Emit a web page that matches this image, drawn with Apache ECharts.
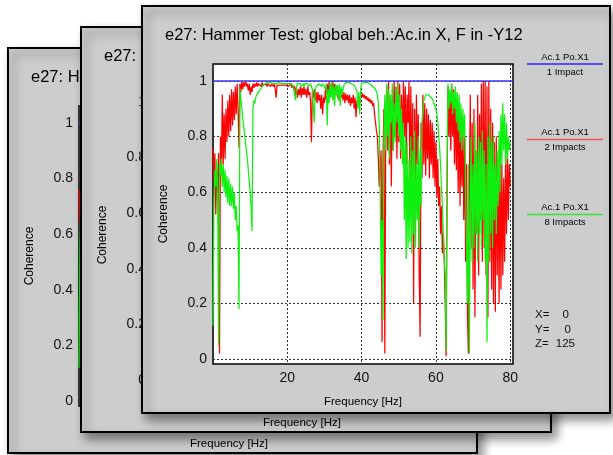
<!DOCTYPE html>
<html>
<head>
<meta charset="utf-8">
<script src="https://cdn.jsdelivr.net/npm/echarts@6/dist/echarts.min.js"></script>
<style>
  html, body { margin: 0; padding: 0; background: #ffffff; }
  #chart { width: 613px; height: 455px; }
</style>
</head>
<body>
<div id="chart"></div>
<script>
// Coherence spectra, hammer test e27 (frequency sampled every 0.25 Hz from 0 to 80 Hz)
const FREQ_STEP = 0.25;

// 2 impacts (red)
const impacts2 = [
  0.76, 0.64, 0.74, 0.52,  0.68, 0.60, 0.74, 0.02,  0.80, 0.66, 0.95, 0.70,  0.88, 0.72, 0.90, 0.78,
  0.93, 0.80, 0.95, 0.82,  0.97, 0.84, 0.96, 0.86,  0.98, 0.88, 0.99, 0.90,  0.76, 0.99, 0.96, 1.00,
  0.97, 0.995, 0.98, 1.00, 0.98, 0.99, 0.965, 0.99, 0.95, 0.98, 0.96, 0.99,  0.975, 0.99, 0.98, 0.995,
  0.98, 0.99, 0.985, 0.99, 0.98, 0.995, 0.985, 0.99, 0.985, 0.99, 0.98, 0.99, 0.985, 0.99, 0.98, 0.99,
  0.985, 0.98, 0.99, 0.97, 0.94, 0.985, 0.98, 0.99, 0.985, 0.98, 0.99, 0.985, 0.98, 0.99, 0.985, 0.98,
  0.99, 0.98, 0.985, 0.975, 0.99, 0.975, 0.985, 0.97, 0.98, 0.95, 0.975, 0.94, 0.97, 0.95, 0.98, 0.94,
  0.975, 0.95, 0.98, 0.95, 0.97, 0.94, 0.98, 0.95,  0.96, 0.93, 0.78, 0.96,  0.94, 0.97, 0.93, 0.96,
  0.92, 0.96, 0.93, 0.95,  0.90, 0.95, 0.88, 0.94,  0.92, 0.97, 0.93, 0.99,  0.95, 1.00, 0.94, 0.99,
  0.96, 1.00, 0.95, 0.99,  0.95, 0.98, 0.94, 0.97,  0.93, 0.97, 0.94, 0.96,  0.93, 0.96, 0.92, 0.955,
  0.93, 0.95, 0.92, 0.95,  0.91, 0.94, 0.92, 0.95,  0.90, 0.94, 0.87, 0.93,  0.91, 0.945, 0.92, 0.95,
  0.94, 0.955, 0.94, 0.95, 0.935, 0.945, 0.93, 0.94, 0.925, 0.935, 0.92, 0.93, 0.91, 0.92, 0.88, 0.85,
  0.82, 0.80, 0.72, 0.62,  0.68, 0.75, 0.06, 0.72,  0.90, 0.02, 0.85, 0.98,  0.75, 1.00, 0.70, 0.95,
  0.62, 0.92, 0.75, 1.00,  0.80, 0.98, 0.72, 1.00,  0.78, 0.99, 0.72, 0.95,  0.75, 1.00, 0.80, 0.98,
  0.70, 0.95, 0.85, 1.00,  0.65, 0.98, 0.60, 0.92,  0.20, 0.90, 0.55, 0.95,  0.70, 0.88, 0.30, 0.08,
  0.85, 0.65, 0.95, 0.70,  0.92, 0.66, 0.90, 0.72,  0.88, 0.65, 0.86, 0.70,  0.85, 0.65, 0.82, 0.62,
  0.78, 0.58, 0.72, 0.55,  0.62, 0.45, 0.55, 0.38,  0.45, 0.35, 0.20, 0.01,  0.60, 0.98, 0.80, 0.95,
  0.75, 0.99, 0.80, 0.97,  0.70, 0.95, 0.68, 0.92,  0.60, 0.90, 0.55, 0.88,  0.62, 0.85, 0.50, 0.80,
  0.35, 0.70, 0.15, 0.02,  0.60, 0.95, 0.40, 0.85,  0.25, 0.90, 0.15, 0.75,  0.45, 0.95, 0.30, 0.88,
  0.50, 0.99, 0.35, 1.00,  0.40, 1.00, 0.30, 0.98,  0.15, 1.00, 0.35, 0.90,  0.25, 0.85, 0.20, 0.78,
  0.17, 0.80, 0.30, 0.72,  0.20, 0.75, 0.25, 0.70,  0.30, 0.65, 0.35, 0.72,  0.45, 0.75, 0.50, 0.70,
  0.62
];

// 8 impacts (green)
const impacts8 = [
  0.12, 0.55, 0.68, 0.62,  0.72, 0.58, 0.05, 0.70,  0.66, 0.72, 0.62, 0.70,  0.60, 0.68, 0.58, 0.66,
  0.56, 0.65, 0.55, 0.63,  0.55, 0.62, 0.54, 0.60,  0.50, 0.55, 0.46, 0.48,  0.18, 0.97, 0.94, 0.90,
  0.87, 0.84, 0.81, 0.78,  0.75, 0.72, 0.68, 0.64,  0.60, 0.55, 0.46, 0.90,  0.93, 0.92, 0.94, 0.95,
  0.955, 0.96, 0.965, 0.97, 0.975, 0.98, 0.98, 0.985, 0.99, 0.99, 0.99, 0.995, 0.995, 0.995, 0.995, 0.995,
  0.995, 0.99, 0.995, 0.99, 0.99, 0.995, 0.995, 0.995, 0.995, 0.995, 0.99, 0.995, 0.995, 0.99, 0.995, 0.995,
  0.99, 0.995, 0.985, 0.99, 0.995, 0.99, 0.985, 0.99, 0.98, 0.93, 0.98, 0.99,  0.99, 0.985, 0.99, 0.98,
  0.985, 0.99, 0.98, 0.99, 0.99, 0.985, 0.99, 0.98, 0.985, 0.99, 0.98, 0.97,  0.97, 0.85, 0.96, 0.98,
  0.985, 0.98, 0.99, 0.985, 0.99, 0.98, 0.99, 0.985, 0.98, 0.97, 0.99, 0.84,  0.97, 0.92, 0.99, 0.94,
  1.00, 0.93, 0.98, 0.91,  0.99, 0.95, 0.985, 0.93, 0.99, 0.91, 0.98, 0.95,  0.97, 0.985, 0.99, 0.995,
  0.995, 0.995, 0.995, 0.995, 0.995, 0.99, 0.995, 0.99, 0.985, 0.98, 0.97, 0.96, 0.90, 0.96, 0.88, 0.97,
  0.99, 0.995, 0.995, 0.995, 0.995, 0.995, 0.995, 0.99, 0.99, 0.99, 0.985, 0.985, 0.98, 0.98, 0.975, 0.97,
  0.96, 0.95, 0.92, 0.85,  0.60, 0.30, 0.50, 0.14,  0.80, 0.95, 0.75, 0.99,  0.80, 0.97, 0.72, 0.95,
  0.85, 0.99, 0.75, 0.92,  0.78, 0.97, 0.85, 0.99,  0.80, 0.95, 0.75, 0.90,  0.70, 0.85, 0.50, 0.80,
  0.36, 0.78, 0.40, 0.72,  0.42, 0.80, 0.38, 0.75,  0.45, 0.82, 0.40, 0.70,  0.50, 0.80, 0.40, 0.75,
  0.55, 0.85, 0.90, 0.93,  0.93, 0.95, 0.95, 0.955, 0.95, 0.95, 0.945, 0.94, 0.935, 0.93, 0.92, 0.91,
  0.90, 0.88, 0.85, 0.80,  0.76, 0.70, 0.62, 0.55,  0.45, 0.36, 0.30, 0.03,  0.70, 0.99, 0.90, 0.97,
  0.92, 0.99, 0.88, 0.96,  0.90, 0.98, 0.85, 0.96,  0.82, 0.95, 0.78, 0.92,  0.75, 0.90, 0.80, 0.88,
  0.60, 0.40, 0.20, 0.70,  0.02, 0.55, 0.80, 0.35,  0.70, 0.40, 0.85, 0.45,  0.75, 0.35, 0.80, 0.45,
  0.78, 0.40, 0.82, 0.50,  0.75, 0.35, 0.70, 0.06,  0.80, 0.35, 0.85, 0.45,  0.78, 0.40, 0.80, 0.50,
  0.70, 0.45, 0.75, 0.55,  0.82, 0.60, 0.88, 0.70,  0.92, 0.75, 0.88, 0.70,  0.85, 0.72, 0.80, 0.75,
  0.78
];

// 1 impact (blue): coherence is identically one over the whole band
const impact1Freq = [0, 80.75];
const impact1 = [1, 1];

const TITLE = 'e27: Hammer Test: global beh.:Ac.in X, F in -Y12';
const legendHead = 'Ac.1 Po.X1';
const legendNames = ['1 Impact', '2 Impacts', '8 Impacts'];
const cursorLabels = ['X=', 'Y=', 'Z='];
const cursorValues = ['0', '0', '125'];

const SANS = "'Liberation Sans', Arial, sans-serif";
const COLORS = { one: '#3a3aff', two: '#ff0000', eight: '#10f010' };
const LEGEND_COLORS = ['#2626ff', '#ee5555', '#3de03d'];

// three stacked measurement windows, back to front
const windows = [
  { rect: [8, 48, 469, 405],  grid: [79, 106], z: 1 },
  { rect: [81, 27, 470, 405], grid: [152, 85], z: 10 },
  { rect: [142, 6, 468, 407], grid: [213, 64], z: 20 }
];

const toPairs = (vals) => vals.map((v, k) => [k * FREQ_STEP, v]);
const blueData = impact1.map((v, k) => [impact1Freq[k], v]);

const graphic = [];
const grid = [];
const xAxis = [];
const yAxis = [];
const series = [];

windows.forEach((w, i) => {
  const [rx, ry, rw, rh] = w.rect;
  graphic.push({
    type: 'rect', z: w.z,
    shape: { x: rx, y: ry, width: rw, height: rh },
    style: { fill: '#cdcdcd', stroke: '#000', lineWidth: 2,
             shadowBlur: 10, shadowOffsetX: 5, shadowOffsetY: 6, shadowColor: 'rgba(0,0,0,0.45)' }
  });
  graphic.push({
    type: 'text', z: w.z + 1,
    style: { x: rx + 23, y: ry + 29, text: TITLE, font: '16.5px ' + SANS, fill: '#000',
             textVerticalAlign: 'middle' }
  });
  grid.push({
    left: w.grid[0], top: w.grid[1], width: 300, height: 300,
    show: true, backgroundColor: '#ffffff', borderColor: '#000', borderWidth: 1.5, z: w.z + 1
  });
  const split = { show: true, lineStyle: { color: '#333', type: [2, 2], width: 1 } };
  xAxis.push({
    gridIndex: i, type: 'value', min: 0, max: 80.75, splitNumber: 4, z: w.z + 2,
    name: 'Frequency [Hz]', nameLocation: 'middle', nameGap: 32,
    nameTextStyle: { fontFamily: SANS, fontSize: 11.5, color: '#000' },
    axisLine: { show: false }, axisTick: { show: false },
    axisLabel: { showMinLabel: false, showMaxLabel: false, margin: 7,
                 fontFamily: SANS, fontSize: 14, color: '#111' },
    splitLine: split
  });
  yAxis.push({
    gridIndex: i, type: 'value', min: -0.018, max: 1.061, splitNumber: 5, z: w.z + 2,
    name: 'Coherence', nameLocation: 'middle', nameGap: 43, nameRotate: 90,
    nameTextStyle: { fontFamily: SANS, fontSize: 12, color: '#000' },
    axisLine: { show: false }, axisTick: { show: false },
    axisLabel: { showMinLabel: false, showMaxLabel: false, margin: 6,
                 fontFamily: SANS, fontSize: 14, color: '#111' },
    splitLine: split
  });
  const base = { type: 'line', xAxisIndex: i, yAxisIndex: i, showSymbol: false, silent: true,
                 animation: false, sampling: null };
  series.push(Object.assign({}, base, { name: legendNames[1], z: w.z + 3, data: toPairs(impacts2),
    lineStyle: { color: COLORS.two, width: 1.25 } }));
  series.push(Object.assign({}, base, { name: legendNames[2], z: w.z + 3, data: toPairs(impacts8),
    lineStyle: { color: COLORS.eight, width: 1.25 } }));
  series.push(Object.assign({}, base, { name: legendNames[0], z: w.z + 4, data: blueData,
    lineStyle: { color: COLORS.one, width: 1.5 } }));
});

// legend block and cursor read-out of the front window
const legendY = [64, 139.5, 214.5];
legendNames.forEach((name, k) => {
  const y = legendY[k];
  graphic.push({ type: 'line', z: 22, shape: { x1: 527, y1: y, x2: 603, y2: y },
                 style: { stroke: LEGEND_COLORS[k], lineWidth: 1.6 } });
  graphic.push({ type: 'text', z: 22, style: { x: 565, y: y - 7, text: legendHead,
                 font: '9.5px ' + SANS, fill: '#000', textAlign: 'center', textVerticalAlign: 'middle' } });
  graphic.push({ type: 'text', z: 22, style: { x: 565, y: y + 8, text: name,
                 font: '9.5px ' + SANS, fill: '#000', textAlign: 'center', textVerticalAlign: 'middle' } });
});
const cursorY = [315, 330, 344];
const cursorRight = [569, 571, 575];
cursorLabels.forEach((lab, k) => {
  graphic.push({ type: 'text', z: 22, style: { x: 535, y: cursorY[k], text: lab,
                 font: '11.5px ' + SANS, fill: '#111', textVerticalAlign: 'middle' } });
  graphic.push({ type: 'text', z: 22, style: { x: cursorRight[k], y: cursorY[k], text: cursorValues[k],
                 font: '11.5px ' + SANS, fill: '#111', textAlign: 'right', textVerticalAlign: 'middle' } });
});

const chart = echarts.init(document.getElementById('chart'), null, { renderer: 'canvas' });
chart.setOption({
  animation: false,
  grid: grid,
  xAxis: xAxis,
  yAxis: yAxis,
  series: series,
  graphic: { elements: graphic }
});
</script>
</body>
</html>
